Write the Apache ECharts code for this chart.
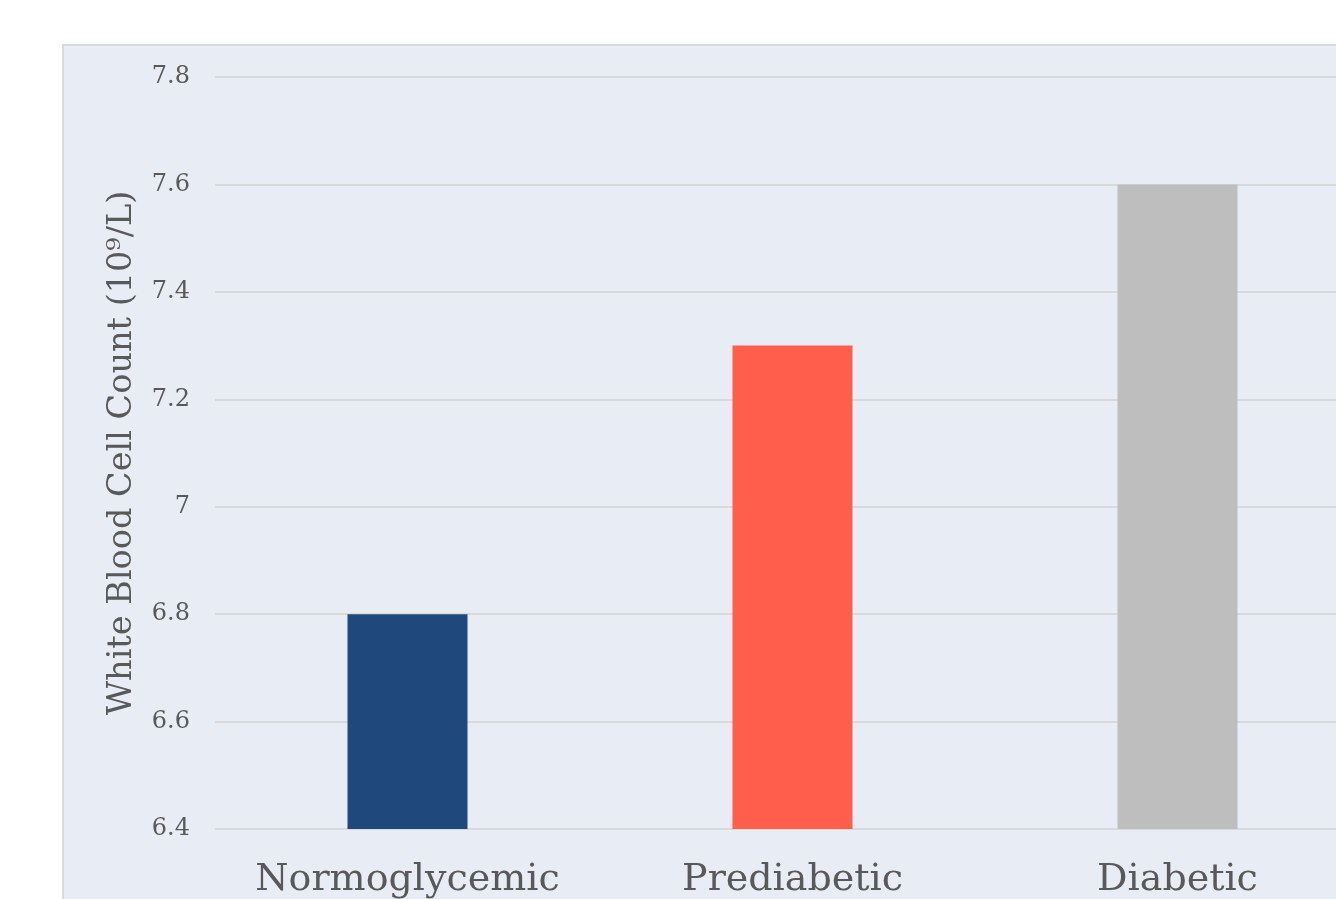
<!DOCTYPE html>
<html>
<head>
<meta charset="utf-8">
<title>White Blood Cell Count by Glycemic Status</title>
<script src="https://cdn.jsdelivr.net/npm/echarts@6/dist/echarts.min.js"></script>
<style>
  html, body { margin: 0; padding: 0; background: #ffffff; overflow: hidden; }
  /* canvas is wider than the window so the plot continues past the right edge */
  #chart { width: 1400px; height: 899px; }
</style>
</head>
<body>
<div id="chart"></div>
<script>
// Groups shown along the category axis
const categories = ['Normoglycemic', 'Prediabetic', 'Diabetic'];
// Mean white blood cell count per group (10^9/L)
const wbcValues = [6.8, 7.3, 7.6];
// Value-axis range and step
const yMin = 6.4;
const yMax = 7.8;
const yStep = 0.2;

// One fill per group
const barColors = ['#1F497C', '#FF5E4C', '#BEBEBE'];

const serif = '"DejaVu Serif", "Liberation Serif", serif';

const chart = echarts.init(document.getElementById('chart'), null, { renderer: 'canvas' });

chart.setOption({
  backgroundColor: '#ffffff',
  animation: false,
  graphic: [{
    type: 'rect',
    z: -100,
    silent: true,
    shape: { x: 63, y: 45, width: 2000, height: 2000 },
    style: { fill: '#E8ECF4', stroke: '#D9D9D9', lineWidth: 2 }
  }],
  grid: {
    left: 215,
    right: 30,
    top: 77,
    bottom: 64,
    containLabel: false
  },
  xAxis: {
    type: 'category',
    data: categories,
    axisLine: { show: false },
    axisTick: { show: false },
    axisLabel: {
      interval: 0,
      color: '#595959',
      fontFamily: serif,
      fontSize: 38,
      margin: 32
    }
  },
  yAxis: {
    type: 'value',
    min: yMin,
    max: yMax,
    interval: yStep,
    name: 'White Blood Cell Count (10⁹/L)',
    nameLocation: 'middle',
    nameGap: 76,
    nameTextStyle: {
      color: '#595959',
      fontFamily: serif,
      fontSize: 33.5
    },
    axisLine: { show: false },
    axisTick: { show: false },
    axisLabel: {
      color: '#595959',
      fontFamily: serif,
      fontSize: 24,
      margin: 25
    },
    splitLine: { lineStyle: { color: '#D9D9D9', width: 2 } }
  },
  series: [{
    type: 'bar',
    barWidth: 120,
    data: wbcValues.map((v, i) => ({ value: v, itemStyle: { color: barColors[i] } }))
  }]
});
</script>
</body>
</html>
